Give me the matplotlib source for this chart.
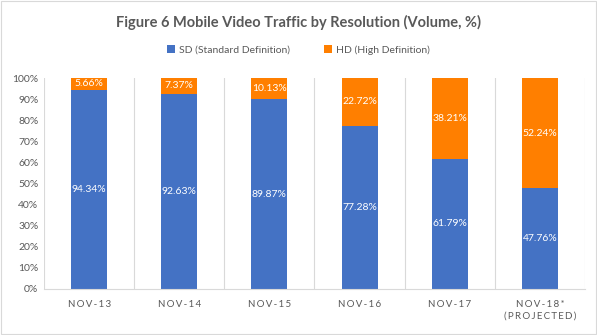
import numpy as np
import matplotlib
matplotlib.use("Agg")
import matplotlib.pyplot as plt

plt.rcParams['font.family'] = ['Lato', 'DejaVu Sans']

# data
months = ["NOV-13", "NOV-14", "NOV-15", "NOV-16", "NOV-17", "NOV-18*\n(PROJECTED)"]
sd = [94.34, 92.63, 89.87, 77.28, 61.79, 47.76]
hd = [5.66, 7.37, 10.13, 22.72, 38.21, 52.24]

blue = "#4472C4"
orange = "#FF7F00"
grey = "#595959"


def spaced(s):
    # letter spaced tick labels like the excel chart
    return "\n".join("\u2009".join(list(line)) for line in s.split("\n"))


fig = plt.figure(figsize=(5.97, 3.35), dpi=100)
ax = fig.add_axes([44 / 597, 1 - 289 / 335, (585 - 44) / 597, (289 - 78) / 335])

x = np.arange(len(months))
ax.bar(x, sd, width=0.4, color=blue, label="SD (Standard Definition)")
ax.bar(x, hd, width=0.4, bottom=sd, color=orange, label="HD (High Definition)")

for i in range(len(months)):
    ax.text(x[i], sd[i] / 2, f"{sd[i]:.2f}%", ha="center", va="center",
            color="white", fontsize=7.5)
    ax.text(x[i], sd[i] + hd[i] / 2, f"{hd[i]:.2f}%", ha="center", va="center",
            color="white", fontsize=7.5)

ax.set_xlim(-0.5, len(months) - 0.5)
ax.set_ylim(0, 100)
ax.set_yticks(np.arange(0, 101, 10))
ax.set_yticklabels([f"{v}%" for v in range(0, 101, 10)], fontsize=7.5, color=grey)
ax.set_xticks(x)
ax.set_xticklabels([spaced(m) for m in months], fontsize=7, color=grey, linespacing=1.3)
ax.tick_params(length=0, pad=4)
ax.tick_params(axis="x", pad=8)

# category separators
for b in np.arange(-0.5, len(months), 1.0):
    ax.axvline(b, color="#D9D9D9", lw=0.8, zorder=0)
for s in ["top", "right", "left"]:
    ax.spines[s].set_visible(False)
ax.spines["bottom"].set_color("#D9D9D9")

fig.text(0.5, 1 - 22 / 335, "Figure 6 Mobile Video Traffic by Resolution (Volume, %)",
         ha="center", va="center", fontsize=10.5, fontweight="bold", color=grey)
fig.legend(loc="center", bbox_to_anchor=(0.5, 1 - 50 / 335), ncol=2, frameon=False,
           fontsize=7.5, handlelength=0.7, handleheight=0.7, columnspacing=3.3,
           handletextpad=0.4, labelcolor=grey)

# outer border
fig.patches.append(plt.Rectangle((0.002, 0.004), 0.996, 0.992, transform=fig.transFigure,
                                 fill=False, edgecolor="#D9D9D9", lw=0.8))

fig.savefig("out.png", dpi=100)
